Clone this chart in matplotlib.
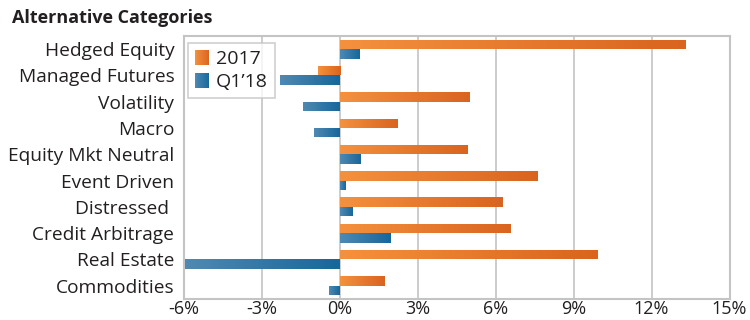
import matplotlib

matplotlib.use("Agg")
import matplotlib.pyplot as plt  # noqa: E402
import numpy as np  # noqa: E402
from matplotlib.colors import LinearSegmentedColormap  # noqa: E402
from matplotlib.legend_handler import HandlerBase  # noqa: E402
from matplotlib.patches import Patch, Rectangle  # noqa: E402

plt.rcParams["font.family"] = ["Open Sans", "DejaVu Sans"]

categories = [
    "Hedged Equity", "Managed Futures", "Volatility", "Macro", "Equity Mkt Neutral",
    "Event Driven", "Distressed ", "Credit Arbitrage", "Real Estate", "Commodities",
]
ret_2017 = [13.3, -0.85, 5.0, 2.2, 4.9, 7.6, 6.25, 6.55, 9.9, 1.7]
ret_q1_18 = [0.75, -2.3, -1.4, -1.0, 0.78, 0.22, 0.5, 1.95, -5.95, -0.42]
series_names = ["2017", "Q1\u201918"]
xticks = [-6, -3, 0, 3, 6, 9, 12, 15]

ORANGE_LIGHT, ORANGE_DARK = "#F4913E", "#D9641F"
BLUE_LIGHT, BLUE_DARK = "#5089B2", "#17679A"
GRID = "#C4C4C4"
TEXT = "#231F20"

fig = plt.figure(figsize=(7.5, 3.2), dpi=100)
ax = fig.add_axes([0.2453, 0.066, 0.7274, 0.8215])

y = np.arange(len(categories))
h = 0.36
grad = np.linspace(0, 1, 256).reshape(1, -1)
cmaps = {
    "orange": LinearSegmentedColormap.from_list("orange", [ORANGE_LIGHT, ORANGE_DARK]),
    "blue": LinearSegmentedColormap.from_list("blue", [BLUE_LIGHT, BLUE_DARK]),
}


def gradient_bars(bars, cmap):
    for b in bars:
        x0, y0 = b.get_x(), b.get_y()
        x1, y1 = x0 + b.get_width(), y0 + b.get_height()
        left, right = min(x0, x1), max(x0, x1)
        im = ax.imshow(grad, cmap=cmap, aspect="auto", extent=(left, right, y1, y0),
                       zorder=3, interpolation="bilinear")
        im.set_clip_path(b)
        b.set_facecolor("none")
        b.set_edgecolor("none")


class GradientHandler(HandlerBase):
    """Legend key drawn as thin strips going light to dark."""

    def create_artists(self, legend, orig_handle, xdescent, ydescent,
                       width, height, fontsize, trans):
        cmap = cmaps[orig_handle.get_gid()]
        n = 16
        w = width / n
        return [Rectangle((-xdescent + i * w, -ydescent), w * 1.05, height,
                          facecolor=cmap(i / (n - 1)), edgecolor="none", transform=trans)
                for i in range(n)]


b1 = ax.barh(y - h / 2, ret_2017, height=h, color=ORANGE_DARK, zorder=3)
b2 = ax.barh(y + h / 2, ret_q1_18, height=h, color=BLUE_DARK, zorder=3)
gradient_bars(b1, cmaps["orange"])
gradient_bars(b2, cmaps["blue"])

ax.set_xlim(-6, 15)
ax.set_ylim(len(categories) - 0.5, -0.5)
ax.set_xticks(xticks)
ax.set_xticklabels([f"{t}%" for t in xticks], fontsize=13, color=TEXT)
ax.set_yticks(y)
ax.set_yticklabels(categories, fontsize=13.8, color=TEXT)
ax.tick_params(axis="x", length=0, pad=1)
ax.tick_params(axis="y", length=0, pad=7)
ax.grid(axis="x", color=GRID, linewidth=1.2, zorder=0)
for s in ax.spines.values():
    s.set_color(GRID)
    s.set_linewidth(1.5)

handles = [Patch(facecolor=ORANGE_DARK, label=series_names[0], gid="orange"),
           Patch(facecolor=BLUE_DARK, label=series_names[1], gid="blue")]
leg = ax.legend(handles=handles, loc="upper left", bbox_to_anchor=(0.0073, 0.973),
                borderaxespad=0, fontsize=14, frameon=True, fancybox=False,
                handlelength=0.75, handleheight=0.8, handletextpad=0.35,
                borderpad=0.35, labelspacing=0.25,
                handler_map={Patch: GradientHandler()})
leg.get_frame().set_edgecolor(GRID)
leg.get_frame().set_linewidth(1.2)
leg.set_zorder(2)
for t in leg.get_texts():
    t.set_color(TEXT)

fig.text(0.016, 0.945, "Alternative Categories", fontsize=13, fontweight="bold",
         color=TEXT, va="center")

fig.savefig("out.png", dpi=100)
